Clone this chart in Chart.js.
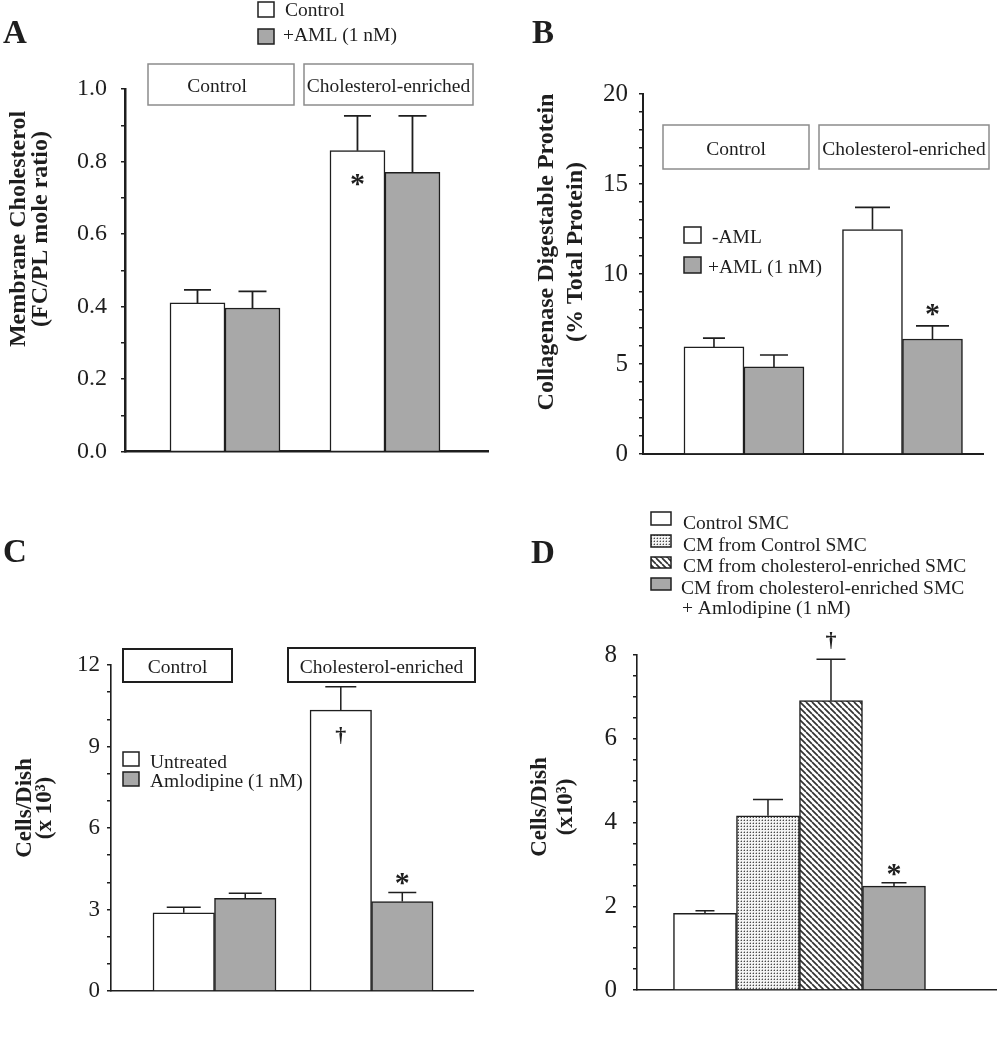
<!DOCTYPE html>
<html>
<head>
<meta charset="utf-8">
<script src="https://cdn.jsdelivr.net/npm/chart.js@4.4.1/dist/chart.umd.min.js"></script>
<style>
html,body{margin:0;padding:0;background:#ffffff;}
#wrap{position:relative;width:997px;height:1050px;overflow:hidden;}
canvas{position:absolute;}
</style>
</head>
<body>
<div id="wrap">
<canvas id="cA" width="500" height="480" style="left:0px;top:0px"></canvas>
<canvas id="cB" width="497" height="480" style="left:500px;top:0px"></canvas>
<canvas id="cC" width="500" height="570" style="left:0px;top:480px"></canvas>
<canvas id="cD" width="497" height="570" style="left:500px;top:480px"></canvas>
</div>
<script>
// ---------------- DATA ----------------
// Panel A: membrane cholesterol (FC/PL mole ratio)
const aGroups = ['Control', 'Cholesterol-enriched'];
const aSeriesNames = ['Control', '+AML (1 nM)'];
const aControl = [0.41, 0.83];
const aControlSE = [0.036, 0.096];
const aAML = [0.396, 0.77];
const aAMLSE = [0.046, 0.156];
const aControlMarks = ['', '*'];
const aAMLMarks = ['', ''];
const aTickValues = [0, 0.2, 0.4, 0.6, 0.8, 1.0];
const aTickLabels = ['0.0', '0.2', '0.4', '0.6', '0.8', '1.0'];

// Panel B: collagenase digestable protein (% total protein)
const bGroups = ['Control', 'Cholesterol-enriched'];
const bSeriesNames = ['-AML', '+AML (1 nM)'];
const bNoAML = [5.95, 12.47];
const bNoAMLSE = [0.49, 1.23];
const bAML = [4.84, 6.39];
const bAMLSE = [0.66, 0.73];
const bNoAMLMarks = ['', ''];
const bAMLMarks = ['', '*'];
const bTickValues = [0, 5, 10, 15, 20];
const bTickLabels = ['0', '5', '10', '15', '20'];

// Panel C: cells/dish (x 10^3)
const cGroups = ['Control', 'Cholesterol-enriched'];
const cSeriesNames = ['Untreated', 'Amlodipine (1 nM)'];
const cUntreated = [2.88, 10.34];
const cUntreatedSE = [0.20, 0.86];
const cAmlodipine = [3.41, 3.29];
const cAmlodipineSE = [0.19, 0.34];
const cUntreatedMarks = ['', '\u2020'];
const cAmlodipineMarks = ['', '*'];
const cTickValues = [0, 3, 6, 9, 12];
const cTickLabels = ['0', '3', '6', '9', '12'];

// Panel D: cells/dish (x 10^3) with conditioned media
const dCategories = ['Control SMC', 'CM from Control SMC', 'CM from cholesterol-enriched SMC', 'CM from cholesterol-enriched SMC\n+ Amlodipine (1 nM)'];
const dValues = [1.83, 4.16, 6.91, 2.48];
const dSE = [0.06, 0.39, 0.99, 0.08];
const dMarks = ['', '', '\u2020', '*'];
const dTickValues = [0, 2, 4, 6, 8];
const dTickLabels = ['0', '2', '4', '6', '8'];

// ---------------- STYLE ----------------
const SERIF = "'Liberation Serif','Times New Roman',serif";
const INK = '#1e1e1e';
const GRAY = '#a8a8a8';
const WHITE = '#ffffff';

function makePattern(kind) {
  const c = document.createElement('canvas');
  const g = c.getContext('2d');
  if (kind === 'dots') {
    c.width = 3; c.height = 3;
    g.fillStyle = '#f4f4f4'; g.fillRect(0, 0, 3, 3);
    g.fillStyle = '#b4b4b4'; g.fillRect(0, 1, 1, 1); g.fillRect(1, 0, 1, 1);
    g.fillStyle = '#4a4a4a'; g.fillRect(1, 1, 1, 1);
  } else {
    c.width = 6; c.height = 6;
    g.fillStyle = '#ffffff'; g.fillRect(0, 0, 6, 6);
    g.strokeStyle = '#333333'; g.lineWidth = 1.7;
    g.beginPath();
    [-6, 0, 6].forEach(o => { g.moveTo(o, 0); g.lineTo(o + 6, 6); });
    g.stroke();
  }
  return g.createPattern(c, 'repeat');
}
const DOTS = makePattern('dots');
const HATCH = makePattern('hatch');

function centeredText(ctx, s, x, cy) {
  const m = ctx.measureText(s);
  const asc = m.actualBoundingBoxAscent, desc = m.actualBoundingBoxDescent;
  ctx.textAlign = 'center';
  ctx.textBaseline = 'alphabetic';
  ctx.fillText(s, x, cy + (asc - desc) / 2);
}

function pick(v, i) { return Array.isArray(v) ? v[i] : v; }

function panel(id, P) {
  const canvas = document.getElementById(id);
  const W = canvas.width, H = canvas.height;
  const datasets = P.series.map(s => ({
    label: s.name,
    data: s.values.map((v, i) => ({ x: i, y: v })),
    backgroundColor: s.fill,
    borderColor: INK,
    borderWidth: P.barBorder,
    barThickness: P.barWidth,
    se: s.se,
    marks: s.marks,
    markInside: s.markInside,
    markOffset: s.markOffset,
    cap: s.cap
  }));

  const overlay = {
    id: 'overlay_' + id,
    afterDatasetsDraw(chart) {
      const ctx = chart.ctx;
      const ys = chart.scales.y;
      ctx.save();
      ctx.strokeStyle = INK;
      ctx.fillStyle = INK;
      ctx.lineWidth = P.errWidth;
      chart.data.datasets.forEach((ds, di) => {
        const meta = chart.getDatasetMeta(di);
        meta.data.forEach((bar, i) => {
          const v = ds.data[i].y;
          const yTop = ys.getPixelForValue(v);
          const yCap = ys.getPixelForValue(v + ds.se[i]);
          const cap = pick(ds.cap, i);
          ctx.beginPath();
          ctx.moveTo(bar.x, yTop);
          ctx.lineTo(bar.x, yCap);
          ctx.moveTo(bar.x - cap / 2, yCap);
          ctx.lineTo(bar.x + cap / 2, yCap);
          ctx.stroke();
          const m = ds.marks[i];
          if (m) {
            ctx.font = m === '*' ? P.starFont : P.daggerFont;
            const off = pick(ds.markOffset, i);
            const cy = ds.markInside ? yTop + off : yCap - off;
            centeredText(ctx, m, bar.x, cy);
          }
        });
      });
      ctx.restore();
    },
    afterDraw(chart) {
      const ctx = chart.ctx;
      const D = P.deco;
      ctx.save();
      ctx.fillStyle = INK;
      // panel letter
      ctx.font = 'bold 33px ' + SERIF;
      ctx.textAlign = 'left'; ctx.textBaseline = 'alphabetic';
      ctx.fillText(D.letter.text, D.letter.x, D.letter.y);
      // y-axis title (rotated)
      ctx.font = D.title.font;
      D.title.lines.forEach(l => {
        ctx.save();
        ctx.translate(l.x, D.title.yc);
        ctx.rotate(-Math.PI / 2);
        ctx.textAlign = 'center'; ctx.textBaseline = 'alphabetic';
        ctx.fillText(l.text, 0, 0);
        ctx.restore();
      });
      // group boxes
      (D.boxes || []).forEach(b => {
        ctx.fillStyle = '#ffffff';
        ctx.fillRect(b.x, b.y, b.w, b.h);
        ctx.strokeStyle = D.boxColor; ctx.lineWidth = D.boxWidth;
        ctx.strokeRect(b.x, b.y, b.w, b.h);
        ctx.fillStyle = INK;
        ctx.font = '19.5px ' + SERIF;
        ctx.textAlign = 'center'; ctx.textBaseline = 'alphabetic';
        ctx.fillText(b.text, b.x + b.w / 2 + (b.dx || 0), b.base);
      });
      // legend
      ctx.font = '19.5px ' + SERIF;
      D.legend.forEach(it => {
        if (it.sw) {
          ctx.fillStyle = it.fill;
          ctx.fillRect(it.sw.x, it.sw.y, it.sw.w, it.sw.h);
          ctx.strokeStyle = INK; ctx.lineWidth = 1.5;
          ctx.strokeRect(it.sw.x, it.sw.y, it.sw.w, it.sw.h);
        }
        ctx.fillStyle = INK;
        ctx.textAlign = 'left'; ctx.textBaseline = 'alphabetic';
        ctx.fillText(it.text, it.x, it.base);
      });
      ctx.restore();
    }
  };

  return new Chart(canvas, {
    type: 'bar',
    data: { datasets },
    options: {
      responsive: false,
      animation: false,
      devicePixelRatio: 1,
      events: [],
      layout: { padding: { left: 0, top: P.top, right: W - P.right, bottom: H - P.bottom } },
      plugins: { legend: { display: false }, tooltip: { enabled: false } },
      scales: {
        x: {
          type: 'linear',
          offset: false,
          min: P.xMin, max: P.xMax,
          grid: { display: false, offset: false },
          ticks: { display: false },
          border: { display: true, color: INK, width: P.axisWidth },
          afterFit(s) { s.height = 0; }
        },
        y: {
          min: 0, max: P.yMax,
          grid: { display: true, drawOnChartArea: false, drawTicks: true, tickLength: 4, color: INK, lineWidth: 1.5 },
          border: { display: true, color: INK, width: P.axisWidth },
          ticks: {
            stepSize: P.yStep,
            autoSkip: false,
            padding: P.tickPad,
            color: INK,
            font: { family: SERIF, size: P.tickSize },
            callback(v) {
              const k = P.tickValues.findIndex(t => Math.abs(t - v) < 1e-6);
              return k >= 0 ? P.tickLabels[k] : '';
            }
          },
          afterFit(s) { s.width = P.axisX; }
        }
      }
    },
    plugins: [overlay]
  });
}

// ---------------- PANELS ----------------
panel('cA', {
  axisX: 125, top: 89, bottom: 463, right: 488,
  xMin: -0.625, xMax: 1.644, barWidth: 55, barBorder: 1.5,
  yMax: 1.0, yStep: 0.1, tickValues: aTickValues, tickLabels: aTickLabels,
  tickSize: 24, tickPad: 14, axisWidth: 2.5,
  errWidth: 1.8,
  starFont: 'bold 30px ' + SERIF, daggerFont: 'bold 22px ' + SERIF,
  series: [
    { name: aSeriesNames[0], values: aControl, se: aControlSE, marks: aControlMarks, fill: WHITE, markInside: true, markOffset: 29, cap: 27 },
    { name: aSeriesNames[1], values: aAML, se: aAMLSE, marks: aAMLMarks, fill: GRAY, markInside: false, markOffset: 14, cap: 28 }
  ],
  deco: {
    letter: { text: 'A', x: 3, y: 43 },
    title: { font: 'bold 24px ' + SERIF, yc: 229, lines: [
      { text: 'Membrane Cholesterol', x: 25 },
      { text: '(FC/PL mole ratio)', x: 47 } ] },
    boxColor: '#8c8c8c', boxWidth: 1.5,
    boxes: [
      { text: aGroups[0], x: 148, y: 64, w: 146, h: 41, base: 92, dx: -4 },
      { text: aGroups[1], x: 304, y: 64, w: 169, h: 41, base: 92, dx: 0 } ],
    legend: [
      { text: aSeriesNames[0], x: 285, base: 16, fill: WHITE, sw: { x: 258, y: 2, w: 16, h: 15 } },
      { text: aSeriesNames[1], x: 283, base: 41, fill: GRAY, sw: { x: 258, y: 29, w: 16, h: 15 } } ]
  }
});

panel('cB', {
  axisX: 143, top: 94, bottom: 459, right: 483,
  xMin: -0.637, xMax: 1.508, barWidth: 60, barBorder: 1.5,
  yMax: 20, yStep: 1, tickValues: bTickValues, tickLabels: bTickLabels,
  tickSize: 25, tickPad: 11, axisWidth: 2,
  errWidth: 1.6,
  starFont: 'bold 30px ' + SERIF, daggerFont: 'bold 22px ' + SERIF,
  series: [
    { name: bSeriesNames[0], values: bNoAML, se: bNoAMLSE, marks: bNoAMLMarks, fill: WHITE, markInside: false, markOffset: 16, cap: [22, 35] },
    { name: bSeriesNames[1], values: bAML, se: bAMLSE, marks: bAMLMarks, fill: GRAY, markInside: false, markOffset: 16, cap: [28, 33] }
  ],
  deco: {
    letter: { text: 'B', x: 32, y: 43 },
    title: { font: 'bold 24px ' + SERIF, yc: 252, lines: [
      { text: 'Collagenase Digestable Protein', x: 53 },
      { text: '(% Total Protein)', x: 82 } ] },
    boxColor: '#8c8c8c', boxWidth: 1.5,
    boxes: [
      { text: bGroups[0], x: 163, y: 125, w: 146, h: 44, base: 155, dx: 0 },
      { text: bGroups[1], x: 319, y: 125, w: 170, h: 44, base: 155, dx: 0 } ],
    legend: [
      { text: bSeriesNames[0], x: 212, base: 243, fill: WHITE, sw: { x: 184, y: 227, w: 17, h: 16 } },
      { text: bSeriesNames[1], x: 208, base: 273, fill: GRAY, sw: { x: 184, y: 257, w: 17, h: 16 } } ]
  }
});

panel('cC', {
  axisX: 111, top: 185, bottom: 511, right: 473,
  xMin: -0.659, xMax: 1.646, barWidth: 61.5, barBorder: 1.5,
  yMax: 12, yStep: 1, tickValues: cTickValues, tickLabels: cTickLabels,
  tickSize: 23, tickPad: 7, axisWidth: 1.6,
  errWidth: 1.5,
  starFont: 'bold 30px ' + SERIF, daggerFont: 'bold 22px ' + SERIF,
  series: [
    { name: cSeriesNames[0], values: cUntreated, se: cUntreatedSE, marks: cUntreatedMarks, fill: WHITE, markInside: true, markOffset: 25, cap: [34, 31] },
    { name: cSeriesNames[1], values: cAmlodipine, se: cAmlodipineSE, marks: cAmlodipineMarks, fill: GRAY, markInside: false, markOffset: 13, cap: [33, 28] }
  ],
  deco: {
    letter: { text: 'C', x: 3, y: 82 },
    title: { font: 'bold 23px ' + SERIF, yc: 328, lines: [
      { text: 'Cells/Dish', x: 31 },
      { text: '(x 10\u00B3)', x: 51 } ] },
    boxColor: INK, boxWidth: 2,
    boxes: [
      { text: cGroups[0], x: 123, y: 169, w: 109, h: 33, base: 193, dx: 0 },
      { text: cGroups[1], x: 288, y: 168, w: 187, h: 34, base: 193, dx: 0 } ],
    legend: [
      { text: cSeriesNames[0], x: 150, base: 288, fill: WHITE, sw: { x: 123, y: 272, w: 16, h: 14 } },
      { text: cSeriesNames[1], x: 150, base: 307, fill: GRAY, sw: { x: 123, y: 292, w: 16, h: 14 } } ]
  }
});

const dLines = dCategories[3].split('\n');
panel('cD', {
  axisX: 137, top: 175, bottom: 510, right: 497,
  xMin: -1.079, xMax: 4.635, barWidth: 63, barBorder: 1.5,
  yMax: 8, yStep: 0.5, tickValues: dTickValues, tickLabels: dTickLabels,
  tickSize: 25, tickPad: 16, axisWidth: 1.6,
  errWidth: 1.5,
  starFont: 'bold 30px ' + SERIF, daggerFont: 'bold 22px ' + SERIF,
  series: [
    { name: 'D', values: dValues, se: dSE, marks: dMarks, fill: [WHITE, DOTS, HATCH, GRAY], markInside: false, markOffset: [0, 0, 19, 13], cap: [19, 30, 29, 25] }
  ],
  deco: {
    letter: { text: 'D', x: 31, y: 83 },
    title: { font: 'bold 23px ' + SERIF, yc: 327, lines: [
      { text: 'Cells/Dish', x: 46 },
      { text: '(x10\u00B3)', x: 72 } ] },
    boxColor: INK, boxWidth: 2,
    boxes: [],
    legend: [
      { text: dCategories[0], x: 183, base: 49, fill: WHITE, sw: { x: 151, y: 32, w: 20, h: 13 } },
      { text: dCategories[1], x: 183, base: 71, fill: DOTS, sw: { x: 151, y: 55, w: 20, h: 12 } },
      { text: dCategories[2], x: 183, base: 92, fill: HATCH, sw: { x: 151, y: 77, w: 20, h: 11 } },
      { text: dLines[0], x: 181, base: 114, fill: GRAY, sw: { x: 151, y: 98, w: 20, h: 12 } },
      { text: dLines[1], x: 182, base: 134 } ]
  }
});
</script>
</body>
</html>
